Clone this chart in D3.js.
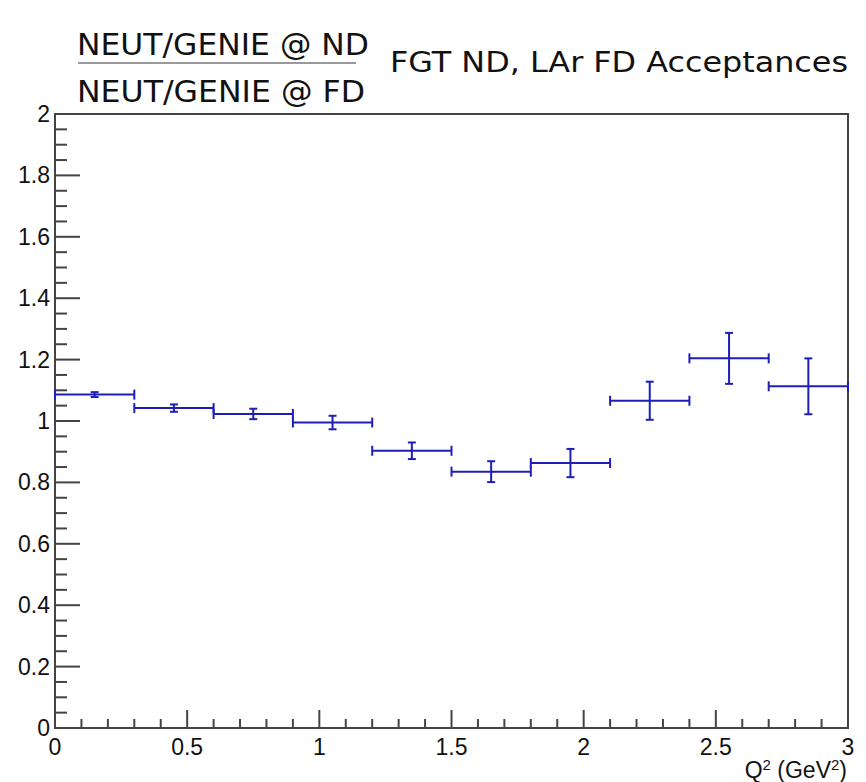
<!DOCTYPE html>
<html>
<head>
<meta charset="utf-8">
<script src="https://cdn.jsdelivr.net/npm/d3@7"></script>
<style>
  body { margin: 0; background: #fff; }
  svg text { font-family: "Liberation Sans", Arial, sans-serif; }
  svg text.ttl { font-family: "DejaVu Sans", sans-serif; }
</style>
</head>
<body>
<div id="chart"></div>
<script>
// bin edges in Q^2 (GeV^2)
const binLow  = [0.0, 0.3, 0.6, 0.9, 1.2, 1.5, 1.8, 2.1, 2.4, 2.7];
const binHigh = [0.3, 0.6, 0.9, 1.2, 1.5, 1.8, 2.1, 2.4, 2.7, 3.0];
// ratio values and errors
const ratio = [1.086, 1.042, 1.023, 0.995, 0.903, 0.835, 0.863, 1.066, 1.204, 1.113];
const ratioErr = [0.008, 0.012, 0.017, 0.022, 0.027, 0.034, 0.046, 0.062, 0.083, 0.091];
const xTicks = [0, 0.5, 1, 1.5, 2, 2.5, 3];
const yTicks = [0, 0.2, 0.4, 0.6, 0.8, 1, 1.2, 1.4, 1.6, 1.8, 2];

const W = 866, H = 782;
const margin = {top: 114, right: 18, bottom: 54, left: 55};
const width = W - margin.left - margin.right;
const height = H - margin.top - margin.bottom;
const blue = "#1f1fb8";

const svg = d3.select("#chart").append("svg")
  .attr("width", W).attr("height", H);

const g = svg.append("g")
  .attr("transform", `translate(${margin.left},${margin.top})`);

const x = d3.scaleLinear().domain([0, 3]).range([0, width]);
const y = d3.scaleLinear().domain([0, 2]).range([height, 0]);

// frame
g.append("rect")
  .attr("width", width).attr("height", height)
  .attr("fill", "none").attr("stroke", "#444").attr("stroke-width", 2);

// x axis ticks (pointing up into frame)
const xMinor = d3.range(0, 3.0001, 0.1);
g.selectAll(".xtick").data(xMinor).enter().append("line")
  .attr("x1", d => x(d)).attr("x2", d => x(d))
  .attr("y1", height)
  .attr("y2", (d, i) => height - (i % 5 === 0 ? 18 : 9))
  .attr("stroke", "#444").attr("stroke-width", 2);

g.selectAll(".xlab").data(xTicks).enter().append("text")
  .attr("x", d => x(d)).attr("y", height + 27)
  .attr("text-anchor", "middle")
  .attr("font-size", 23).attr("fill", "#111")
  .text(d => d3.format("")(d));

// y axis ticks (pointing right into frame)
const yMinor = d3.range(0, 2.0001, 0.05);
g.selectAll(".ytick").data(yMinor).enter().append("line")
  .attr("x1", 0)
  .attr("x2", (d, i) => (i % 4 === 0 ? 25 : 12))
  .attr("y1", d => y(d)).attr("y2", d => y(d))
  .attr("stroke", "#444").attr("stroke-width", 2);

g.selectAll(".ylab").data(yTicks).enter().append("text")
  .attr("x", -5).attr("y", d => y(d) + 8)
  .attr("text-anchor", "end")
  .attr("font-size", 23).attr("fill", "#111")
  .text(d => d3.format("")(d));

// x axis title
const xt = svg.append("text")
  .attr("x", W - 19).attr("y", H - 4)
  .attr("text-anchor", "end")
  .attr("font-size", 23).attr("fill", "#111");
xt.append("tspan").text("Q");
xt.append("tspan").attr("font-size", 15).attr("dy", -8).text("2");
xt.append("tspan").attr("dy", 8).text(" (GeV");
xt.append("tspan").attr("font-size", 15).attr("dy", -8).text("2");
xt.append("tspan").attr("dy", 8).text(")");

// error bars
const pts = g.selectAll(".pt").data(ratio.map((v, i) => ({
  lo: binLow[i], hi: binHigh[i], v: v, e: ratioErr[i]
}))).enter().append("g").attr("class", "pt")
  .attr("stroke", blue).attr("stroke-width", 2).attr("fill", "none");

pts.append("line")
  .attr("x1", d => x(d.lo)).attr("x2", d => x(d.hi))
  .attr("y1", d => y(d.v)).attr("y2", d => y(d.v));
pts.append("line")
  .attr("x1", d => x((d.lo + d.hi) / 2)).attr("x2", d => x((d.lo + d.hi) / 2))
  .attr("y1", d => y(d.v - d.e)).attr("y2", d => y(d.v + d.e));
// caps
[d => d.lo, d => d.hi].forEach(f => {
  pts.append("line")
    .attr("x1", d => x(f(d))).attr("x2", d => x(f(d)))
    .attr("y1", d => y(d.v) - 5).attr("y2", d => y(d.v) + 5);
});
[d => d.v - d.e, d => d.v + d.e].forEach(f => {
  pts.append("line")
    .attr("x1", d => x((d.lo + d.hi) / 2) - 4).attr("x2", d => x((d.lo + d.hi) / 2) + 4)
    .attr("y1", d => y(f(d))).attr("y2", d => y(f(d)));
});

// title: fraction + text
svg.append("text").attr("class", "ttl").attr("x", 77).attr("y", 55)
  .attr("font-size", 30).attr("fill", "#111")
  .attr("textLength", 292).attr("lengthAdjust", "spacingAndGlyphs")
  .text("NEUT/GENIE @ ND");
svg.append("line").attr("x1", 78).attr("x2", 356)
  .attr("y1", 63).attr("y2", 63)
  .attr("stroke", "#777").attr("stroke-width", 1.5);
svg.append("text").attr("class", "ttl").attr("x", 77).attr("y", 102)
  .attr("font-size", 30).attr("fill", "#111")
  .attr("textLength", 288).attr("lengthAdjust", "spacingAndGlyphs")
  .text("NEUT/GENIE @ FD");
svg.append("text").attr("class", "ttl").attr("x", 390).attr("y", 72)
  .attr("font-size", 29).attr("fill", "#111")
  .attr("textLength", 458).attr("lengthAdjust", "spacingAndGlyphs")
  .text("FGT ND, LAr FD Acceptances");
</script>
</body>
</html>
